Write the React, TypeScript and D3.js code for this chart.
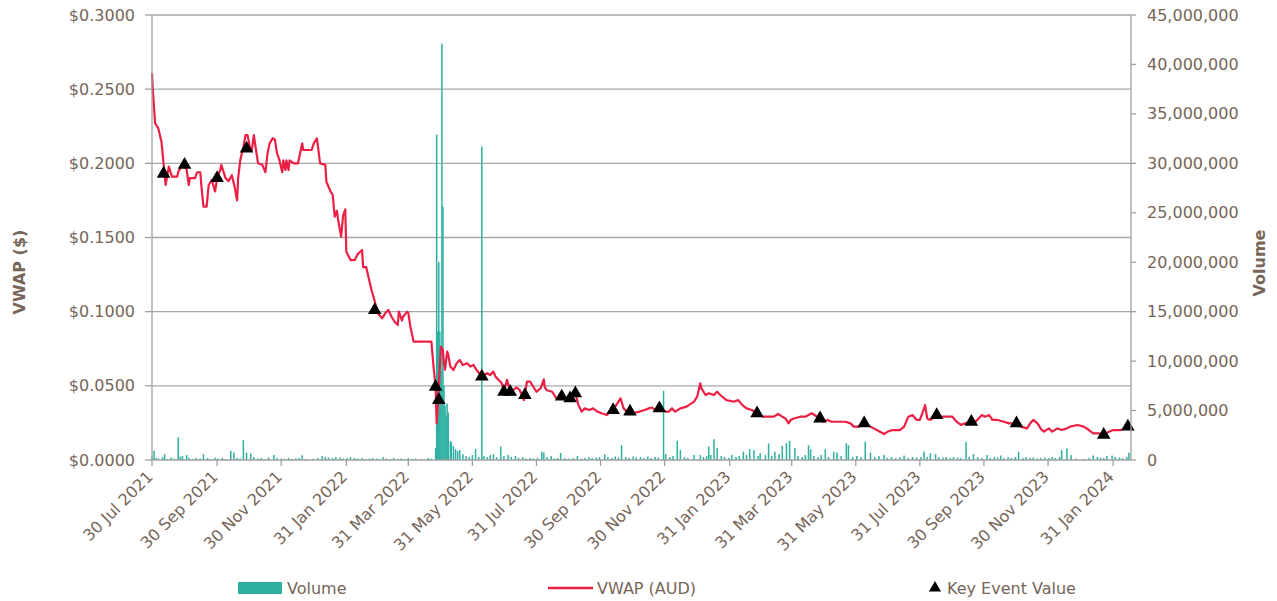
import React from "react";
import * as d3 from "d3";

// VWAP (AUD) by date
const vwapSeries: [string, number][] = [
  ["2021-07-30", 0.2607], ["2021-07-31", 0.247], ["2021-08-02", 0.227], ["2021-08-05", 0.2236],
  ["2021-08-08", 0.2146], ["2021-08-10", 0.2], ["2021-08-12", 0.1854], ["2021-08-15", 0.1978],
  ["2021-08-18", 0.191], ["2021-08-23", 0.191], ["2021-08-24", 0.1944], ["2021-08-27", 0.1978],
  ["2021-08-29", 0.2], ["2021-09-01", 0.1955], ["2021-09-03", 0.1854], ["2021-09-04", 0.19],
  ["2021-09-09", 0.19], ["2021-09-11", 0.194], ["2021-09-14", 0.194], ["2021-09-15", 0.185],
  ["2021-09-17", 0.1708], ["2021-09-20", 0.1708], ["2021-09-22", 0.1854], ["2021-09-25", 0.1888],
  ["2021-09-28", 0.181], ["2021-09-30", 0.19], ["2021-10-03", 0.1955], ["2021-10-04", 0.199],
  ["2021-10-08", 0.19], ["2021-10-11", 0.188], ["2021-10-14", 0.192], ["2021-10-17", 0.183],
  ["2021-10-19", 0.175], ["2021-10-20", 0.19], ["2021-10-22", 0.202], ["2021-10-25", 0.211],
  ["2021-10-27", 0.219], ["2021-10-29", 0.219], ["2021-10-31", 0.211], ["2021-11-02", 0.209],
  ["2021-11-04", 0.219], ["2021-11-06", 0.209], ["2021-11-08", 0.2], ["2021-11-12", 0.199],
  ["2021-11-15", 0.194], ["2021-11-17", 0.2067], ["2021-11-19", 0.2135], ["2021-11-22", 0.217],
  ["2021-11-24", 0.216], ["2021-11-26", 0.2067], ["2021-11-28", 0.203], ["2021-12-01", 0.194],
  ["2021-12-02", 0.202], ["2021-12-04", 0.1955], ["2021-12-05", 0.202], ["2021-12-07", 0.1955],
  ["2021-12-08", 0.202], ["2021-12-12", 0.2], ["2021-12-16", 0.2], ["2021-12-20", 0.2135],
  ["2021-12-21", 0.209], ["2021-12-29", 0.209], ["2021-12-31", 0.2135], ["2022-01-03", 0.2168],
  ["2022-01-06", 0.2], ["2022-01-11", 0.199], ["2022-01-12", 0.1876], ["2022-01-16", 0.181],
  ["2022-01-18", 0.1787], ["2022-01-20", 0.164], ["2022-01-22", 0.168], ["2022-01-23", 0.163],
  ["2022-01-26", 0.1506], ["2022-01-28", 0.165], ["2022-01-30", 0.169], ["2022-01-31", 0.1404],
  ["2022-02-04", 0.1348], ["2022-02-08", 0.1348], ["2022-02-11", 0.139], ["2022-02-15", 0.1416],
  ["2022-02-16", 0.13], ["2022-02-19", 0.13], ["2022-02-21", 0.1236], ["2022-02-24", 0.1146],
  ["2022-02-27", 0.107], ["2022-03-02", 0.0989], ["2022-03-06", 0.0955], ["2022-03-09", 0.0989],
  ["2022-03-12", 0.1011], ["2022-03-15", 0.0966], ["2022-03-18", 0.0932], ["2022-03-21", 0.091],
  ["2022-03-22", 0.1], ["2022-03-25", 0.094], ["2022-03-26", 0.0966], ["2022-03-30", 0.1],
  ["2022-03-31", 0.099], ["2022-04-02", 0.09], ["2022-04-05", 0.0798], ["2022-04-22", 0.0798],
  ["2022-04-24", 0.063], ["2022-04-26", 0.0494], ["2022-04-27", 0.0247], ["2022-04-28", 0.036],
  ["2022-04-29", 0.047], ["2022-04-30", 0.063], ["2022-05-01", 0.0764], ["2022-05-03", 0.074],
  ["2022-05-04", 0.065], ["2022-05-05", 0.061], ["2022-05-07", 0.073], ["2022-05-08", 0.071],
  ["2022-05-10", 0.063], ["2022-05-13", 0.0607], ["2022-05-16", 0.0652], ["2022-05-19", 0.0674],
  ["2022-05-22", 0.064], ["2022-05-26", 0.0652], ["2022-05-29", 0.063], ["2022-06-01", 0.0641],
  ["2022-06-04", 0.0607], ["2022-06-09", 0.0562], ["2022-06-14", 0.0585], ["2022-06-17", 0.0573],
  ["2022-06-20", 0.0596], ["2022-06-22", 0.0562], ["2022-06-25", 0.054], ["2022-06-28", 0.0517],
  ["2022-06-30", 0.046], ["2022-07-03", 0.054], ["2022-07-06", 0.046], ["2022-07-09", 0.0472],
  ["2022-07-12", 0.049], ["2022-07-15", 0.0472], ["2022-07-19", 0.0404], ["2022-07-22", 0.0528],
  ["2022-07-25", 0.0528], ["2022-07-28", 0.0494], ["2022-07-31", 0.046], ["2022-08-04", 0.0483],
  ["2022-08-07", 0.0544], ["2022-08-08", 0.049], ["2022-08-10", 0.047], ["2022-08-15", 0.046],
  ["2022-08-19", 0.0416], ["2022-08-24", 0.0427], ["2022-08-28", 0.042], ["2022-09-01", 0.0416],
  ["2022-09-06", 0.045], ["2022-09-09", 0.037], ["2022-09-12", 0.0326], ["2022-09-15", 0.0348],
  ["2022-09-19", 0.0337], ["2022-09-23", 0.0348], ["2022-09-27", 0.0326], ["2022-10-01", 0.0315],
  ["2022-10-06", 0.0303], ["2022-10-09", 0.0326], ["2022-10-12", 0.0337], ["2022-10-16", 0.0382],
  ["2022-10-19", 0.0416], ["2022-10-22", 0.0348], ["2022-10-25", 0.0326], ["2022-10-31", 0.0315],
  ["2022-11-06", 0.0326], ["2022-11-11", 0.0337], ["2022-11-15", 0.0348], ["2022-11-18", 0.0354],
  ["2022-11-21", 0.0337], ["2022-11-25", 0.0348], ["2022-12-01", 0.0326], ["2022-12-04", 0.0326],
  ["2022-12-07", 0.0348], ["2022-12-10", 0.0326], ["2022-12-15", 0.0348], ["2022-12-21", 0.036],
  ["2022-12-28", 0.0393], ["2022-12-31", 0.0427], ["2023-01-03", 0.0517], ["2023-01-04", 0.0483],
  ["2023-01-08", 0.0438], ["2023-01-11", 0.045], ["2023-01-16", 0.0438], ["2023-01-19", 0.046],
  ["2023-01-22", 0.0438], ["2023-01-25", 0.042], ["2023-01-28", 0.0404], ["2023-02-04", 0.0393],
  ["2023-02-08", 0.0404], ["2023-02-12", 0.037], ["2023-02-16", 0.0348], ["2023-02-21", 0.0337],
  ["2023-02-26", 0.0315], ["2023-03-04", 0.0292], ["2023-03-09", 0.0292], ["2023-03-14", 0.0292],
  ["2023-03-18", 0.031], ["2023-03-22", 0.0292], ["2023-03-25", 0.028], ["2023-03-28", 0.0247],
  ["2023-03-30", 0.027], ["2023-04-02", 0.028], ["2023-04-08", 0.0292], ["2023-04-13", 0.0292],
  ["2023-04-16", 0.0303], ["2023-04-19", 0.0315], ["2023-04-27", 0.028], ["2023-04-30", 0.0258],
  ["2023-05-04", 0.027], ["2023-05-08", 0.0258], ["2023-05-15", 0.0258], ["2023-05-21", 0.0258],
  ["2023-05-26", 0.0247], ["2023-05-29", 0.0225], ["2023-06-03", 0.0225], ["2023-06-08", 0.0247],
  ["2023-06-14", 0.0225], ["2023-06-20", 0.0202], ["2023-06-27", 0.0175], ["2023-06-30", 0.019],
  ["2023-07-05", 0.0202], ["2023-07-12", 0.0202], ["2023-07-16", 0.0225], ["2023-07-20", 0.0292],
  ["2023-07-24", 0.0303], ["2023-07-28", 0.027], ["2023-07-31", 0.027], ["2023-08-04", 0.0348],
  ["2023-08-05", 0.037], ["2023-08-07", 0.028], ["2023-08-10", 0.027], ["2023-08-16", 0.0303],
  ["2023-08-20", 0.0292], ["2023-08-27", 0.0292], ["2023-08-31", 0.0292], ["2023-09-04", 0.0258],
  ["2023-09-08", 0.0236], ["2023-09-12", 0.0247], ["2023-09-18", 0.0258], ["2023-09-22", 0.0258],
  ["2023-09-25", 0.028], ["2023-09-28", 0.0303], ["2023-10-01", 0.0292], ["2023-10-05", 0.0303],
  ["2023-10-08", 0.027], ["2023-10-13", 0.027], ["2023-10-19", 0.0258], ["2023-10-24", 0.0247],
  ["2023-10-31", 0.0247], ["2023-11-04", 0.0225], ["2023-11-10", 0.0213], ["2023-11-13", 0.0247],
  ["2023-11-16", 0.027], ["2023-11-20", 0.0247], ["2023-11-23", 0.0213], ["2023-11-26", 0.0191],
  ["2023-12-01", 0.0213], ["2023-12-04", 0.0191], ["2023-12-09", 0.0213], ["2023-12-13", 0.0202],
  ["2023-12-18", 0.0213], ["2023-12-21", 0.0225], ["2023-12-28", 0.0236], ["2024-01-03", 0.0225],
  ["2024-01-08", 0.0202], ["2024-01-12", 0.018], ["2024-01-17", 0.018], ["2024-01-22", 0.0169],
  ["2024-01-27", 0.0191], ["2024-01-31", 0.0202], ["2024-02-07", 0.0202], ["2024-02-12", 0.0213],
  ["2024-02-16", 0.0236],
];

// Key event values
const keyEvents: [string, number][] = [
  ["2021-08-10", 0.193], ["2021-08-30", 0.199], ["2021-09-30", 0.19], ["2021-10-28", 0.21],
  ["2022-02-27", 0.101], ["2022-04-26", 0.0494], ["2022-04-29", 0.0404], ["2022-06-09", 0.0562],
  ["2022-06-30", 0.046], ["2022-07-06", 0.046], ["2022-07-20", 0.0438], ["2022-08-24", 0.0427],
  ["2022-09-01", 0.0416], ["2022-09-06", 0.045], ["2022-10-12", 0.0337], ["2022-10-28", 0.0326],
  ["2022-11-25", 0.0348], ["2023-02-26", 0.0315], ["2023-04-27", 0.028], ["2023-06-08", 0.0247],
  ["2023-08-16", 0.0303], ["2023-09-18", 0.0258], ["2023-10-31", 0.0247], ["2024-01-22", 0.0169],
  ["2024-02-14", 0.0225],
];

// Daily traded volume, millions of shares
const volumeMillions: [string, number][] = [
  ["2021-07-30", 0.35], ["2021-08-01", 0.94], ["2021-08-03", 0.2], ["2021-08-05", 0.15],
  ["2021-08-09", 0.3], ["2021-08-11", 0.58], ["2021-08-13", 0.1], ["2021-08-17", 0.25],
  ["2021-08-20", 0.15], ["2021-08-24", 2.3], ["2021-08-26", 0.35], ["2021-08-28", 0.4],
  ["2021-09-01", 0.5], ["2021-09-03", 0.2], ["2021-09-07", 0.12], ["2021-09-10", 0.2],
  ["2021-09-14", 0.15], ["2021-09-17", 0.58], ["2021-09-21", 0.2], ["2021-09-24", 0.1],
  ["2021-09-28", 0.25], ["2021-10-01", 0.15], ["2021-10-05", 0.2], ["2021-10-08", 0.1],
  ["2021-10-13", 0.94], ["2021-10-16", 0.76], ["2021-10-19", 0.2], ["2021-10-22", 0.15],
  ["2021-10-25", 2.0], ["2021-10-28", 0.76], ["2021-11-01", 0.65], ["2021-11-04", 0.3],
  ["2021-11-08", 0.15], ["2021-11-11", 0.2], ["2021-11-15", 0.1], ["2021-11-18", 0.25],
  ["2021-11-23", 0.5], ["2021-11-26", 0.2], ["2021-11-30", 0.15], ["2021-12-03", 0.12],
  ["2021-12-07", 0.2], ["2021-12-10", 0.1], ["2021-12-14", 0.15], ["2021-12-17", 0.2],
  ["2021-12-20", 0.48], ["2021-12-23", 0.1], ["2021-12-30", 0.12], ["2022-01-04", 0.2],
  ["2022-01-08", 0.4], ["2022-01-11", 0.3], ["2022-01-14", 0.25], ["2022-01-18", 0.2],
  ["2022-01-21", 0.3], ["2022-01-25", 0.25], ["2022-01-28", 0.15], ["2022-02-01", 0.2],
  ["2022-02-04", 0.3], ["2022-02-08", 0.2], ["2022-02-11", 0.15], ["2022-02-15", 0.2],
  ["2022-02-18", 0.1], ["2022-02-22", 0.15], ["2022-02-25", 0.2], ["2022-03-01", 0.15],
  ["2022-03-04", 0.1], ["2022-03-07", 0.3], ["2022-03-10", 0.15], ["2022-03-14", 0.1],
  ["2022-03-17", 0.2], ["2022-03-21", 0.12], ["2022-03-24", 0.15], ["2022-03-28", 0.1],
  ["2022-03-31", 0.2], ["2022-04-04", 0.1], ["2022-04-07", 0.15], ["2022-04-12", 0.1],
  ["2022-04-19", 0.2], ["2022-04-22", 0.15], ["2022-04-26", 1.2], ["2022-04-27", 32.9],
  ["2022-04-28", 13], ["2022-04-29", 20], ["2022-04-30", 13], ["2022-05-01", 9],
  ["2022-05-02", 42.1], ["2022-05-03", 25.6], ["2022-05-04", 7.5], ["2022-05-05", 5.5],
  ["2022-05-06", 4.5], ["2022-05-07", 5.7], ["2022-05-08", 4.8], ["2022-05-10", 1.9],
  ["2022-05-11", 1.8], ["2022-05-13", 1.4], ["2022-05-15", 1.1], ["2022-05-17", 0.9],
  ["2022-05-19", 1.0], ["2022-05-22", 0.6], ["2022-05-25", 0.4], ["2022-05-28", 0.3],
  ["2022-05-31", 0.5], ["2022-06-03", 1.1], ["2022-06-06", 0.3], ["2022-06-09", 31.7],
  ["2022-06-11", 0.4], ["2022-06-14", 0.3], ["2022-06-17", 0.5], ["2022-06-20", 0.58],
  ["2022-06-23", 0.3], ["2022-06-27", 1.37], ["2022-06-30", 0.4], ["2022-07-04", 0.5],
  ["2022-07-07", 0.3], ["2022-07-11", 0.4], ["2022-07-14", 0.2], ["2022-07-18", 0.3],
  ["2022-07-21", 0.15], ["2022-07-25", 0.2], ["2022-07-28", 0.15], ["2022-08-01", 0.2],
  ["2022-08-05", 0.84], ["2022-08-07", 0.76], ["2022-08-10", 0.3], ["2022-08-14", 0.4],
  ["2022-08-17", 0.15], ["2022-08-20", 0.2], ["2022-08-23", 0.7], ["2022-08-27", 0.2],
  ["2022-08-31", 0.15], ["2022-09-04", 0.2], ["2022-09-08", 0.4], ["2022-09-12", 0.15],
  ["2022-09-15", 0.2], ["2022-09-19", 0.3], ["2022-09-22", 0.2], ["2022-09-26", 0.25],
  ["2022-09-29", 0.3], ["2022-10-04", 0.58], ["2022-10-07", 0.3], ["2022-10-11", 0.2],
  ["2022-10-14", 0.35], ["2022-10-17", 0.25], ["2022-10-20", 1.5], ["2022-10-24", 0.3],
  ["2022-10-27", 0.2], ["2022-10-31", 0.35], ["2022-11-03", 0.25], ["2022-11-07", 0.3],
  ["2022-11-10", 0.2], ["2022-11-14", 0.35], ["2022-11-17", 0.2], ["2022-11-21", 0.3],
  ["2022-11-24", 0.25], ["2022-11-29", 7.0], ["2022-12-01", 0.6], ["2022-12-05", 0.3],
  ["2022-12-08", 0.4], ["2022-12-12", 1.95], ["2022-12-15", 1.0], ["2022-12-19", 0.3],
  ["2022-12-22", 0.2], ["2022-12-28", 0.5], ["2023-01-03", 0.5], ["2023-01-06", 0.3],
  ["2023-01-09", 0.4], ["2023-01-11", 1.35], ["2023-01-13", 0.5], ["2023-01-16", 2.1],
  ["2023-01-19", 1.2], ["2023-01-23", 0.4], ["2023-01-26", 0.3], ["2023-01-30", 0.2],
  ["2023-02-02", 0.5], ["2023-02-06", 0.3], ["2023-02-09", 0.4], ["2023-02-13", 0.84],
  ["2023-02-16", 0.5], ["2023-02-19", 1.08], ["2023-02-23", 1.0], ["2023-02-27", 0.4],
  ["2023-03-01", 0.7], ["2023-03-06", 0.5], ["2023-03-09", 1.68], ["2023-03-12", 0.4],
  ["2023-03-15", 0.84], ["2023-03-19", 0.6], ["2023-03-22", 1.42], ["2023-03-26", 1.7],
  ["2023-03-29", 1.95], ["2023-04-03", 1.2], ["2023-04-06", 0.4], ["2023-04-10", 0.3],
  ["2023-04-13", 0.5], ["2023-04-16", 1.5], ["2023-04-18", 1.08], ["2023-04-21", 0.4],
  ["2023-04-25", 0.3], ["2023-04-28", 0.5], ["2023-05-02", 1.08], ["2023-05-05", 0.3],
  ["2023-05-10", 0.84], ["2023-05-13", 0.75], ["2023-05-17", 0.4], ["2023-05-22", 1.7],
  ["2023-05-24", 1.5], ["2023-05-28", 0.3], ["2023-06-01", 0.4], ["2023-06-05", 0.3],
  ["2023-06-09", 1.85], ["2023-06-14", 0.75], ["2023-06-18", 0.3], ["2023-06-22", 0.4],
  ["2023-06-27", 0.5], ["2023-06-30", 0.2], ["2023-07-04", 0.3], ["2023-07-08", 0.2],
  ["2023-07-12", 0.3], ["2023-07-16", 0.45], ["2023-07-20", 0.2], ["2023-07-24", 0.3],
  ["2023-07-28", 0.25], ["2023-08-01", 0.3], ["2023-08-04", 0.84], ["2023-08-07", 0.3],
  ["2023-08-10", 0.67], ["2023-08-15", 0.6], ["2023-08-18", 0.3], ["2023-08-22", 0.25],
  ["2023-08-25", 0.3], ["2023-08-29", 0.2], ["2023-09-01", 0.3], ["2023-09-05", 0.25],
  ["2023-09-08", 0.2], ["2023-09-13", 1.85], ["2023-09-16", 0.3], ["2023-09-20", 0.6],
  ["2023-09-24", 0.3], ["2023-09-28", 0.2], ["2023-10-03", 0.5], ["2023-10-06", 0.2],
  ["2023-10-10", 0.3], ["2023-10-13", 0.25], ["2023-10-16", 0.45], ["2023-10-19", 0.2],
  ["2023-10-23", 0.3], ["2023-10-26", 0.2], ["2023-10-30", 0.3], ["2023-11-02", 0.84],
  ["2023-11-06", 0.2], ["2023-11-09", 0.3], ["2023-11-13", 0.2], ["2023-11-16", 0.25],
  ["2023-11-20", 0.15], ["2023-11-23", 0.2], ["2023-11-27", 0.25], ["2023-12-01", 0.2],
  ["2023-12-04", 0.3], ["2023-12-07", 0.2], ["2023-12-11", 0.3], ["2023-12-13", 1.0],
  ["2023-12-18", 1.18], ["2023-12-22", 0.5], ["2023-12-27", 0.15], ["2024-01-03", 0.1],
  ["2024-01-08", 0.2], ["2024-01-12", 0.45], ["2024-01-16", 0.3], ["2024-01-19", 0.25],
  ["2024-01-22", 0.2], ["2024-01-25", 0.4], ["2024-01-30", 0.45], ["2024-02-02", 0.3],
  ["2024-02-06", 0.25], ["2024-02-09", 0.2], ["2024-02-13", 0.3], ["2024-02-15", 0.74],
];

const xTickDates = [
  "2021-07-30", "2021-09-30", "2021-11-30", "2022-01-31", "2022-03-31", "2022-05-31",
  "2022-07-31", "2022-09-30", "2022-11-30", "2023-01-31", "2023-03-31", "2023-05-31",
  "2023-07-31", "2023-09-30", "2023-11-30", "2024-01-31",
];
const priceTicks = [0, 0.05, 0.1, 0.15, 0.2, 0.25, 0.3];
const volumeTicks = [0, 5e6, 10e6, 15e6, 20e6, 25e6, 30e6, 35e6, 40e6, 45e6];
const xDomain = ["2021-07-30", "2024-02-17"];

const FONT = "'DejaVu Sans', Verdana, sans-serif";
const TEXT = "#766558";
const TEAL = "#2db0a1";
const RED = "#ec1f45";
const GRID = "#a8a8a8";

export default function App() {
  const W = 1277;
  const H = 601;
  const plot = { left: 152, right: 1131, top: 15, bottom: 460 };
  const parse = d3.utcParse("%Y-%m-%d");

  const x = d3
    .scaleUtc()
    .domain(xDomain.map((s) => parse(s) as Date))
    .range([plot.left, plot.right]);
  const yPrice = d3.scaleLinear().domain([0, 0.3]).range([plot.bottom, plot.top]);
  const yVol = d3.scaleLinear().domain([0, 45e6]).range([plot.bottom, plot.top]);

  const fmtPrice = d3.format("$.4f");
  const fmtVol = d3.format(",");
  const fmtDate = d3.utcFormat("%d %b %Y");

  const line = d3
    .line<[string, number]>()
    .x((d) => x(parse(d[0]) as Date))
    .y((d) => yPrice(d[1]));

  const tri = d3.symbol(d3.symbolTriangle, 80)();
  const triLegend = d3.symbol(d3.symbolTriangle, 64)();

  return (
    <svg
      width={W}
      height={H}
      style={{ position: "absolute", left: 0, top: 0, background: "#fff" }}
      fontFamily={FONT}
    >
      {/* horizontal gridlines */}
      {priceTicks
        .filter((t) => t > 0)
        .map((t) => (
          <line
            key={`g${t}`}
            x1={plot.left}
            x2={plot.right}
            y1={yPrice(t)}
            y2={yPrice(t)}
            stroke={GRID}
            strokeWidth={1.3}
          />
        ))}

      {/* volume bars */}
      {volumeMillions.map(([d, v]) => {
        const cx = x(parse(d) as Date);
        const top = yVol(v * 1e6);
        return (
          <rect
            key={`v${d}`}
            x={cx - 0.75}
            y={top}
            width={1.5}
            height={plot.bottom - top}
            fill={TEAL}
          />
        );
      })}

      {/* VWAP line */}
      <path d={line(vwapSeries) ?? ""} fill="none" stroke={RED} strokeWidth={2.2} strokeLinejoin="round" />

      {/* key events */}
      {keyEvents.map(([d, v]) => (
        <path
          key={`k${d}`}
          d={tri ?? ""}
          transform={`translate(${x(parse(d) as Date)},${yPrice(v)})`}
          fill="#000"
        />
      ))}

      {/* axes */}
      <g stroke="#a0a0a0" strokeWidth={1.3}>
        <line x1={plot.left} x2={plot.left} y1={plot.top} y2={plot.bottom} />
        <line x1={plot.right} x2={plot.right} y1={plot.top} y2={plot.bottom} />
        <line x1={plot.left} x2={plot.right} y1={plot.bottom} y2={plot.bottom} />
        {priceTicks.map((t) => (
          <line key={`lt${t}`} x1={plot.left - 7} x2={plot.left} y1={yPrice(t)} y2={yPrice(t)} />
        ))}
        {volumeTicks.map((t) => (
          <line key={`rt${t}`} x1={plot.right} x2={plot.right + 5} y1={yVol(t)} y2={yVol(t)} />
        ))}
        {xTickDates.map((s) => {
          const px = x(parse(s) as Date);
          return <line key={`xt${s}`} x1={px} x2={px} y1={plot.bottom} y2={plot.bottom + 6} />;
        })}
      </g>

      {/* tick labels */}
      <g fill={TEXT} fontSize={16}>
        {priceTicks.map((t) => (
          <text key={`ll${t}`} x={135} y={yPrice(t)} textAnchor="end" dominantBaseline="central">
            {fmtPrice(t)}
          </text>
        ))}
        {volumeTicks.map((t) => (
          <text key={`rl${t}`} x={1147} y={yVol(t)} textAnchor="start" dominantBaseline="central">
            {fmtVol(t)}
          </text>
        ))}
        {xTickDates.map((s) => {
          const px = x(parse(s) as Date);
          return (
            <text
              key={`xl${s}`}
              transform={`translate(${px - 2},${plot.bottom + 14}) rotate(-45)`}
              textAnchor="end"
              dominantBaseline="central"
            >
              {fmtDate(parse(s) as Date)}
            </text>
          );
        })}
      </g>

      {/* axis titles */}
      <text
        transform="translate(19,272) rotate(-90)"
        textAnchor="middle"
        dominantBaseline="central"
        fill={TEXT}
        fontSize={16}
        fontWeight="bold"
      >
        VWAP ($)
      </text>
      <text
        transform="translate(1259,263) rotate(-90)"
        textAnchor="middle"
        dominantBaseline="central"
        fill={TEXT}
        fontSize={16}
        fontWeight="bold"
      >
        Volume
      </text>

      {/* legend */}
      <g fill={TEXT} fontSize={16}>
        <rect x={238} y={582} width={44} height={12} fill={TEAL} />
        <text x={287} y={588} dominantBaseline="central">Volume</text>
        <line x1={548} x2={593} y1={588} y2={588} stroke={RED} strokeWidth={2.5} />
        <text x={597} y={588} dominantBaseline="central">VWAP (AUD)</text>
        <path d={triLegend ?? ""} transform="translate(935,588)" fill="#000" />
        <text x={947} y={588} dominantBaseline="central">Key Event Value</text>
      </g>
    </svg>
  );
}
